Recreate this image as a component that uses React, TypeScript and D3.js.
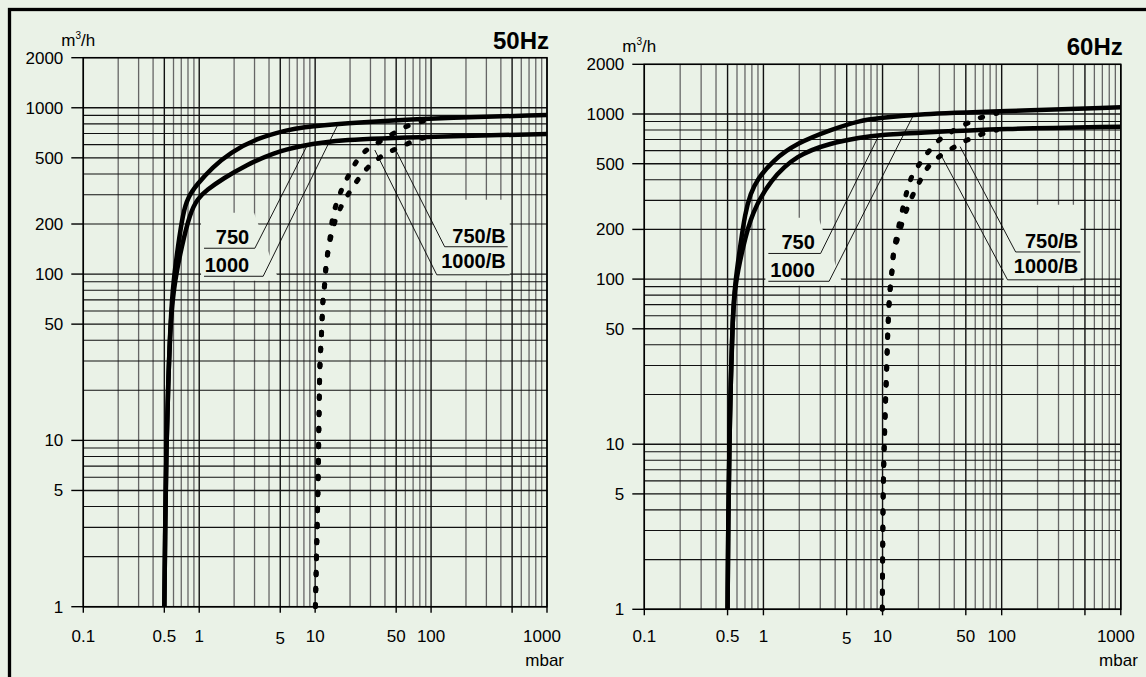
import React from 'react'
import * as d3 from 'd3'

type Pt = [number, number]

const width = 1146
const height = 677
const bg = '#eaf2e7'
const font = '"Liberation Sans", Arial, Helvetica, sans-serif'

// axis labels
const xLabels = [0.1, 0.5, 1, 5, 10, 50, 100, 1000]
const xTickMarks = [0.1, 0.5, 1, 5, 10, 50, 100, 500, 1000]
const yLabels = [1, 5, 10, 50, 100, 200, 500, 1000, 2000]

// pumping speed curves, [pressure mbar, speed m3/h]
const speed750at50Hz: Pt[] = [
  [0.5, 1], [0.51, 3.5], [0.52, 8.8], [0.54, 22], [0.567, 55], [0.617, 92], [0.705, 146],
  [0.832, 233], [0.97, 285], [1.16, 320], [1.6, 375], [2.56, 453], [4.32, 535], [7.4, 590],
  [16.3, 645], [100, 670], [1000, 696],
]
const speed1000at50Hz: Pt[] = [
  [0.5, 1], [0.51, 3.5], [0.52, 8.8], [0.54, 22], [0.567, 55], [0.6, 92], [0.655, 146],
  [0.724, 233], [0.8, 290], [0.95, 345], [1.31, 441], [1.84, 535], [3.12, 656], [6.05, 740],
  [7.4, 760], [16.3, 805], [100, 865], [1000, 905],
]
const speed750Bat50Hz: Pt[] = [
  [10.05, 1], [10.3, 2.2], [10.6, 5.5], [10.8, 14], [11, 28], [11.35, 44], [11.7, 70],
  [12.1, 88], [12.5, 117], [13.2, 150], [15.3, 221], [17.7, 273], [21, 331], [25.1, 394],
  [30.6, 459], [39.9, 525], [53.7, 579], [72.3, 634], [97.3, 677],
]
const speed1000Bat50Hz: Pt[] = [
  [10.05, 1], [10.3, 2.2], [10.6, 5.5], [10.8, 14], [11, 28], [11.35, 44], [11.7, 70],
  [12.1, 88], [12.5, 117], [13.2, 150], [14.4, 230], [16.9, 321], [19.2, 385], [22.7, 474],
  [26.8, 545], [36.1, 626], [48.7, 708], [65.6, 788], [88.3, 836],
]

const speed750at60Hz: Pt[] = [
  [0.5, 1], [0.507, 3.6], [0.517, 9.2], [0.531, 23], [0.552, 59], [0.58, 94], [0.674, 157],
  [0.798, 251], [1.14, 398], [1.9, 565], [3.62, 665], [6.5, 720], [9.5, 748], [19.4, 768],
  [100, 815], [1000, 838],
]
const speed1000at60Hz: Pt[] = [
  [0.5, 1], [0.507, 3.6], [0.517, 9.2], [0.531, 23], [0.552, 59], [0.577, 94], [0.636, 155],
  [0.701, 251], [0.78, 330], [0.879, 398], [1.21, 526], [1.9, 665], [3.62, 800], [6.5, 915],
  [9.5, 945], [19.4, 1000], [100, 1040], [1000, 1099],
]
const speed750Bat60Hz: Pt[] = [
  [9.95, 1], [10.03, 2.3], [10.16, 5.8], [10.5, 14.7], [10.84, 29.5], [11.06, 47], [11.4, 75],
  [11.7, 94], [12.1, 119], [12.4, 145], [13.5, 180], [15.2, 240], [17.5, 310], [20.5, 390],
  [24.3, 480], [30.4, 557], [40.6, 634], [51.5, 696], [68.9, 757], [91, 800],
]
const speed1000Bat60Hz: Pt[] = [
  [9.95, 1], [10.03, 2.3], [10.16, 5.8], [10.5, 14.7], [10.84, 29.5], [11.06, 47], [11.4, 75],
  [11.7, 94], [12.1, 119], [12.4, 145], [13.5, 200], [15, 280], [16.2, 350], [17.6, 417],
  [20.6, 503], [24.3, 591], [30.4, 703], [38.1, 782], [51.5, 879], [68, 955], [91, 1010],
]

// curve labels (annotation layout, in data units)
const labelNames = ['750', '1000', '750/B', '1000/B']
const labelLineFrom = [1.1, 1.1, 131, 112]
const labelLineTo = [3.02, 3.56, 458, 477]
const labelLevel = [143, 97, 146, 99]
const labelTextEnd = [2.7, 2.7, 440, 440]
const labelTextLift = [4, 4.4, 4, 6.5]
const leaderFromStart = [false, false, true, true]
const leaderEnds50Hz: Pt[] = [[8.5, 590], [15.8, 800], [50.6, 542], [32.7, 557]]
const leaderEnds60Hz: Pt[] = [[9.2, 729], [18.2, 986], [44.8, 634], [30.4, 578]]

// white-out areas behind the labels, offsets in px from an anchor
const knockouts = [
  { anchor: [1.1, 97] as Pt, pts: [[-3, -63.5], [50, -63.5], [75, 4.5], [-3, 4.5]] },
  { anchor: [112, 99] as Pt, pts: [[-4, -75], [73, -75], [73, 6], [-4, 6]] },
]

const panels = [
  {
    title: '50Hz', x0: 83.3, x1: 547, y0: 57.7, y1: 606.7,
    solid: [speed750at50Hz, speed1000at50Hz],
    dotted: [speed750Bat50Hz, speed1000Bat50Hz],
    leaderEnds: leaderEnds50Hz,
  },
  {
    title: '60Hz', x0: 644.3, x1: 1120.8, y0: 64.3, y1: 609.3,
    solid: [speed750at60Hz, speed1000at60Hz],
    dotted: [speed750Bat60Hz, speed1000Bat60Hz],
    leaderEnds: leaderEnds60Hz,
  },
]

const mantissa = (v: number) => Math.round(v / Math.pow(10, Math.floor(Math.log10(v) + 1e-9)))
const isMajor = (v: number) => { const m = mantissa(v); return m === 1 || m === 5 }

const Panel = ({ p }: { p: typeof panels[0] }) => {
  const x = d3.scaleLog().domain([0.1, 1000]).range([p.x0, p.x1])
  const y = d3.scaleLog().domain([1, 2000]).range([p.y1, p.y0])
  const solidLine = d3.line<Pt>()
    .x(d => x(d[0]))
    .y(d => y(d[1]))
    .curve(d3.curveBasis)
  const dotLine = d3.line<Pt>()
    .x(d => x(d[0]))
    .y(d => y(d[1]))
    .curve(d3.curveCatmullRom.alpha(0.5))

  return (
    <g>
      {/* grid */}
      {x.ticks().map(v => (
        <line key={'vx' + v} x1={x(v)} x2={x(v)} y1={p.y0} y2={p.y1}
          stroke={isMajor(v) ? '#111' : '#666'} strokeWidth={isMajor(v) ? 1.4 : 1.3} />
      ))}
      {y.ticks().map(v => (
        <line key={'hy' + v} x1={p.x0} x2={p.x1} y1={y(v)} y2={y(v)}
          stroke='#111' strokeWidth={isMajor(v) ? 1.4 : 1.1} />
      ))}

      {knockouts.map((k, i) => {
        const ax = x(k.anchor[0])
        const ay = y(k.anchor[1])
        return <polygon key={'k' + i} points={k.pts.map(d => `${ax + d[0]},${ay + d[1]}`).join(' ')} fill={bg} />
      })}

      <rect x={p.x0} y={p.y0} width={p.x1 - p.x0} height={p.y1 - p.y0} fill='none' stroke='#000' strokeWidth={1.5} />

      {/* y axis */}
      {yLabels.map(v => (
        <g key={'yl' + v}>
          <line x1={p.x0 - 12} x2={p.x0} y1={y(v)} y2={y(v)} stroke='#000' strokeWidth={1.4} />
          <text x={p.x0 - 20} y={y(v)} dy='0.35em' textAnchor='end' fontSize={17}>{v}</text>
        </g>
      ))}
      <text x={p.x0 - 22} y={p.y0 - 12} fontSize={17}>
        m<tspan fontSize={10} dy={-7}>3</tspan><tspan dy={7}>/h</tspan>
      </text>

      {/* x axis */}
      {xTickMarks.map(v => (
        <line key={'xt' + v} x1={x(v)} x2={x(v)} y1={p.y1} y2={p.y1 + 6} stroke='#000' strokeWidth={1.4} />
      ))}
      {xLabels.map(v => (
        <text key={'xl' + v} x={x(v) + (v === 1000 ? -5 : 0)} y={v === 5 ? 644 : 642}
          textAnchor='middle' fontSize={17}>{v}</text>
      ))}
      <text x={p.x1 + 17} y={666} textAnchor='end' fontSize={17}>mbar</text>

      <text x={p.x1 + 2} y={p.y0 - 9} textAnchor='end' fontSize={24} fontWeight='bold'>{p.title}</text>

      {/* curves */}
      {p.solid.map((c, i) => (
        <path key={'s' + i} d={solidLine(c) || ''} fill='none' stroke='#000' strokeWidth={4.5} />
      ))}
      {p.dotted.map((c, i) => (
        <path key={'d' + i} d={dotLine(c) || ''} fill='none' stroke='#000' strokeWidth={5}
          strokeLinecap='round' strokeDasharray='2.5 13.5' />
      ))}

      {/* labels */}
      {labelNames.map((name, i) => {
        const lx0 = x(labelLineFrom[i])
        const lx1 = x(labelLineTo[i])
        const ly = y(labelLevel[i])
        const end = p.leaderEnds[i]
        return (
          <g key={'lab' + name}>
            <line x1={lx0} x2={lx1} y1={ly} y2={ly} stroke='#000' strokeWidth={0.9} />
            <line x1={leaderFromStart[i] ? lx0 : lx1} y1={ly} x2={x(end[0])} y2={y(end[1])}
              stroke='#000' strokeWidth={0.9} />
            <text x={x(labelTextEnd[i])} y={ly - labelTextLift[i]} textAnchor='end'
              fontSize={20} fontWeight='bold'>{name}</text>
          </g>
        )
      })}
    </g>
  )
}

const App = () => (
  <svg width={width} height={height} style={{ position: 'absolute', left: 0, top: 0, background: bg }}
    fontFamily={font}>
    <rect x={0} y={0} width={width} height={height} fill={bg} />
    <rect x={9.5} y={9.5} width={1300} height={900} fill='none' stroke='#000' strokeWidth={3.3} />
    {panels.map(p => <Panel key={p.title} p={p} />)}
  </svg>
)

export default App
